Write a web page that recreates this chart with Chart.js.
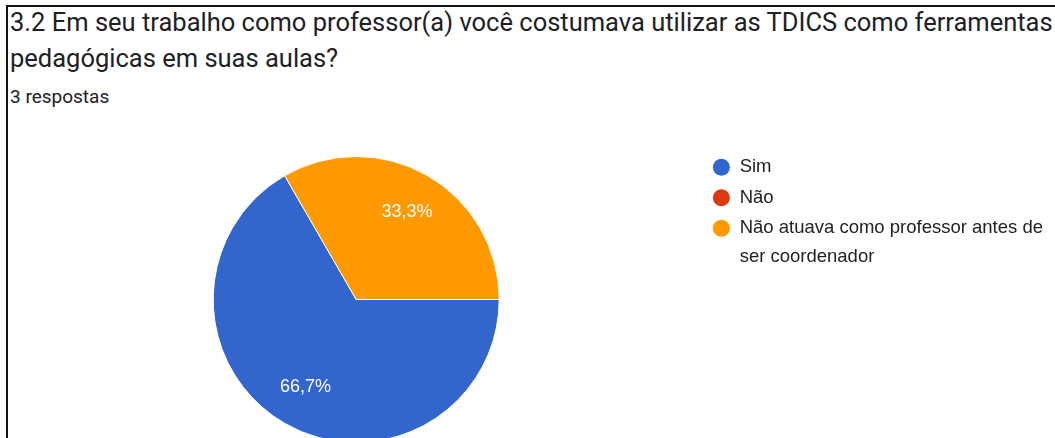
<!DOCTYPE html>
<html>
<head>
<meta charset="utf-8">
<script src="https://cdn.jsdelivr.net/npm/chart.js@4/dist/chart.umd.min.js"></script>
<style>
  html, body { margin: 0; padding: 0; background: #fff; overflow: hidden; }
  body { width: 1055px; height: 438px; position: relative; }
  #frame {
    position: absolute; left: 6px; top: 5px; right: -10px; bottom: -10px;
    border-top: 2px solid #111; border-left: 2px solid #111;
  }
  #titulo {
    position: absolute; left: 10px; top: 4px; width: 1200px;
    font-family: Roboto, "Liberation Sans", sans-serif; font-size: 25.5px;
    line-height: 36px; color: #202124; white-space: nowrap;
  }
  #respostas {
    position: absolute; left: 10px; top: 85px;
    font-family: Roboto, "Liberation Sans", sans-serif; font-size: 19px;
    color: #202124; white-space: nowrap;
  }
  #box { position: absolute; left: 12px; top: 146px; width: 1041px; height: 307px; }
</style>
</head>
<body>
<div id="frame"></div>
<div id="titulo">3.2 Em seu trabalho como professor(a) você costumava utilizar as TDICS como ferramentas<br>pedagógicas em suas aulas?</div>
<div id="respostas">3 respostas</div>
<div id="box"><canvas id="pieChart"></canvas></div>
<script>
// Respostas da pergunta 3.2
const categorias = ["Sim", "Não", ["Não atuava como professor antes de", "ser coordenador"]];
const respostas = [2, 0, 1];
const cores = ["#3366cc", "#dc3912", "#ff9900"];

const total = respostas.reduce((a, b) => a + b, 0);

// Percentuais em branco dentro das fatias
const rotulosPercentuais = {
  id: "rotulosPercentuais",
  afterDatasetsDraw(chart) {
    const { ctx } = chart;
    const meta = chart.getDatasetMeta(0);
    ctx.save();
    ctx.font = "18px 'Liberation Sans', Arial, sans-serif";
    ctx.fillStyle = "#ffffff";
    ctx.textAlign = "center";
    ctx.textBaseline = "middle";
    meta.data.forEach((arc, i) => {
      const v = respostas[i];
      if (!v) return;
      const { x, y, startAngle, endAngle, outerRadius } = arc.getProps(["x", "y", "startAngle", "endAngle", "outerRadius"], true);
      const meio = (startAngle + endAngle) / 2;
      const r = outerRadius * 0.71;
      const texto = (v / total * 100).toFixed(1).replace(".", ",") + "%";
      ctx.fillText(texto, x + Math.cos(meio) * r, y + Math.sin(meio) * r);
    });
    ctx.restore();
  }
};

const ctx = document.getElementById("pieChart").getContext("2d");
new Chart(ctx, {
  type: "pie",
  data: {
    labels: categorias,
    datasets: [{
      data: respostas,
      backgroundColor: cores,
      borderColor: "#ffffff",
      borderWidth: 1,
      radius: 143
    }]
  },
  options: {
    responsive: true,
    maintainAspectRatio: false,
    animation: false,
    rotation: 90,
    layout: { padding: 0 },
    plugins: {
      legend: {
        position: "right",
        align: "start",
        labels: {
          usePointStyle: true,
          pointStyle: "circle",
          boxHeight: 12.7,
          pointStyleWidth: 18,
          padding: 12,
          color: "#222222",
          font: { family: "'Liberation Sans', Arial, sans-serif", size: 18.5, lineHeight: "29px" }
        }
      },
      tooltip: { enabled: false }
    }
  },
  plugins: [rotulosPercentuais]
});
</script>
</body>
</html>
